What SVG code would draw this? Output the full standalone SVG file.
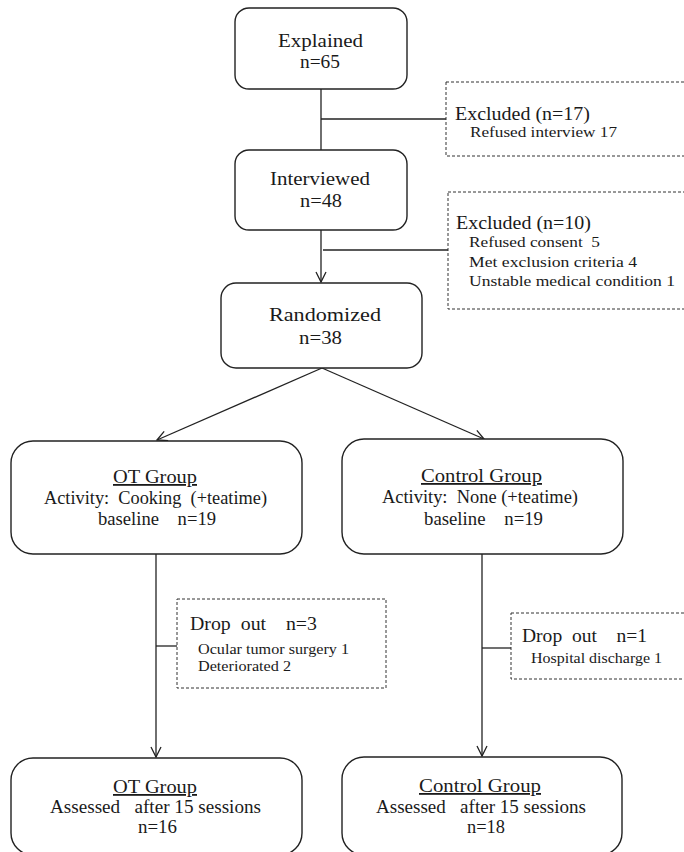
<svg xmlns="http://www.w3.org/2000/svg" width="684" height="852" viewBox="0 0 684 852">
<style>
.box{fill:#fff;stroke:#222;stroke-width:1.4}
.dash{fill:#fff;stroke:#333;stroke-width:1;stroke-dasharray:3 2}
.t{font-family:"Liberation Serif","Times New Roman",serif;fill:#1a1a1a;white-space:pre}
.m{font-size:19px}
.h{font-size:18px}
.s{font-size:15px}
.xs{font-size:14px}
.u{text-decoration:underline}
.c line{stroke:#222;stroke-width:1.3}
</style>
<defs>
<marker id="arr" markerUnits="userSpaceOnUse" markerWidth="14" markerHeight="14" refX="11" refY="6" orient="auto">
<path d="M1,1 L11,6 L1,11" fill="none" stroke="#222" stroke-width="1.3"/>
</marker>
</defs>
<rect width="684" height="852" fill="#fff"/>

<g class="c" id="connectors">
<line x1="321" y1="89" x2="321" y2="150"/>
<line x1="321" y1="119" x2="446" y2="119"/>
<line x1="321" y1="230" x2="321" y2="282" marker-end="url(#arr)"/>
<line x1="323" y1="250" x2="448" y2="250"/>
<line x1="322" y1="368" x2="157" y2="440" marker-end="url(#arr)"/>
<line x1="322" y1="368" x2="484" y2="439" marker-end="url(#arr)"/>
<line x1="156" y1="554" x2="156" y2="757" marker-end="url(#arr)"/>
<line x1="156" y1="646" x2="177" y2="646"/>
<line x1="482" y1="554" x2="482" y2="756" marker-end="url(#arr)"/>
<line x1="482" y1="648" x2="511" y2="648"/>
</g>

<g id="explained">
<rect class="box" x="235" y="8" width="172" height="81" rx="14"/>
<text class="t m" x="278" y="47" textLength="85" lengthAdjust="spacingAndGlyphs">Explained</text>
<text class="t m" x="300" y="68" textLength="40" lengthAdjust="spacingAndGlyphs">n=65</text>
</g>

<g id="excluded1">
<rect class="dash" x="446" y="82" width="260" height="74"/>
<text class="t h" x="455" y="120" textLength="135" lengthAdjust="spacingAndGlyphs">Excluded (n=17)</text>
<text class="t xs" x="470" y="137" textLength="147" lengthAdjust="spacingAndGlyphs">Refused interview 17</text>
</g>

<g id="interviewed">
<rect class="box" x="235" y="150" width="172" height="80" rx="14"/>
<text class="t m" x="270" y="185" textLength="100" lengthAdjust="spacingAndGlyphs">Interviewed</text>
<text class="t m" x="300" y="207" textLength="42" lengthAdjust="spacingAndGlyphs">n=48</text>
</g>

<g id="excluded2">
<rect class="dash" x="448" y="192" width="260" height="117"/>
<text class="t m" x="456" y="229" textLength="135" lengthAdjust="spacingAndGlyphs">Excluded (n=10)</text>
<text class="t s" x="469" y="247" textLength="131" lengthAdjust="spacingAndGlyphs">Refused consent  5</text>
<text class="t s" x="469" y="267" textLength="168" lengthAdjust="spacingAndGlyphs">Met exclusion criteria 4</text>
<text class="t s" x="469" y="286" textLength="206" lengthAdjust="spacingAndGlyphs">Unstable medical condition 1</text>
</g>

<g id="randomized">
<rect class="box" x="221" y="283" width="201" height="85" rx="15"/>
<text class="t m" x="269" y="321" textLength="112" lengthAdjust="spacingAndGlyphs">Randomized</text>
<text class="t m" x="299" y="344" textLength="43" lengthAdjust="spacingAndGlyphs">n=38</text>
</g>

<g id="ot-baseline">
<rect class="box" x="11" y="441" width="291" height="113" rx="22"/>
<text class="t h u" x="113" y="483" textLength="84" lengthAdjust="spacingAndGlyphs">OT Group</text>
<text class="t h" x="44" y="504" textLength="223" lengthAdjust="spacingAndGlyphs">Activity:  Cooking  (+teatime)</text>
<text class="t h" x="98" y="525" textLength="118" lengthAdjust="spacingAndGlyphs">baseline    n=19</text>
</g>

<g id="control-baseline">
<rect class="box" x="342" y="439" width="281" height="115" rx="22"/>
<text class="t h u" x="421" y="482" textLength="121" lengthAdjust="spacingAndGlyphs">Control Group</text>
<text class="t h" x="382" y="503" textLength="196" lengthAdjust="spacingAndGlyphs">Activity:  None (+teatime)</text>
<text class="t h" x="424" y="525" textLength="119" lengthAdjust="spacingAndGlyphs">baseline    n=19</text>
</g>

<g id="dropout-ot">
<rect class="dash" x="177" y="599" width="209" height="89"/>
<text class="t h" x="190" y="630" textLength="127" lengthAdjust="spacingAndGlyphs">Drop  out    n=3</text>
<text class="t s" x="198" y="654" textLength="151" lengthAdjust="spacingAndGlyphs">Ocular tumor surgery 1</text>
<text class="t s" x="198" y="671" textLength="93" lengthAdjust="spacingAndGlyphs">Deteriorated 2</text>
</g>

<g id="dropout-control">
<rect class="dash" x="511" y="613" width="200" height="66"/>
<text class="t h" x="522" y="642" textLength="125" lengthAdjust="spacingAndGlyphs">Drop  out    n=1</text>
<text class="t s" x="531" y="663" textLength="131" lengthAdjust="spacingAndGlyphs">Hospital discharge 1</text>
</g>

<g id="ot-assessed">
<rect class="box" x="11" y="758" width="291" height="97" rx="22"/>
<text class="t h u" x="113" y="793" textLength="84" lengthAdjust="spacingAndGlyphs">OT Group</text>
<text class="t h" x="50" y="813" textLength="211" lengthAdjust="spacingAndGlyphs">Assessed   after 15 sessions</text>
<text class="t h" x="138" y="833" textLength="39" lengthAdjust="spacingAndGlyphs">n=16</text>
</g>

<g id="control-assessed">
<rect class="box" x="342" y="757" width="280" height="98" rx="22"/>
<text class="t h u" x="419" y="792" textLength="122" lengthAdjust="spacingAndGlyphs">Control Group</text>
<text class="t h" x="376" y="813" textLength="210" lengthAdjust="spacingAndGlyphs">Assessed   after 15 sessions</text>
<text class="t h" x="467" y="833" textLength="38" lengthAdjust="spacingAndGlyphs">n=18</text>
</g>
</svg>
